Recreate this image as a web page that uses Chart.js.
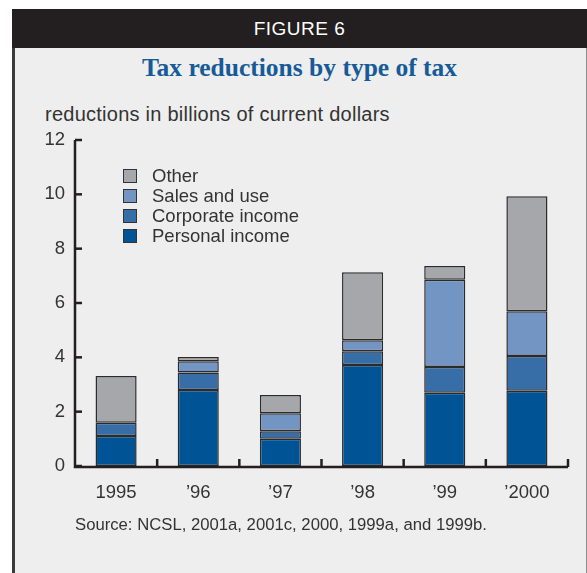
<!DOCTYPE html>
<html>
<head>
<meta charset="utf-8">
<script src="https://cdn.jsdelivr.net/npm/chart.js@4.4.1/dist/chart.umd.min.js"></script>
<style>
  html, body { margin: 0; padding: 0; background: #fff; }
  body { width: 587px; height: 573px; position: relative; overflow: hidden; font-family: "Liberation Sans", Arial, sans-serif; }
  #header {
    position: absolute; left: 12px; top: 9px; width: 575px; height: 39px;
    background: #231f20; color: #fff; font-size: 19px; letter-spacing: 0.5px;
    text-align: center; line-height: 40px;
  }
  #panel {
    position: absolute; left: 12px; top: 48px; width: 571px; height: 525px;
    background: #edeeed; border-left: 3px solid #3c3a3a; border-right: 1px solid #8a8a8a;
  }
  #title {
    position: absolute; left: 12px; width: 575px; top: 53px; text-align: center;
    font-family: "Liberation Serif", "Times New Roman", serif; font-weight: bold;
    font-size: 25.5px; color: #175a98;
  }
  #ylabel { position: absolute; left: 45px; top: 103px; font-size: 20px; letter-spacing: 0.25px; color: #333; }
  #source { position: absolute; left: 75px; top: 515px; font-size: 16.7px; color: #333; }
  #chart { position: absolute; left: 0; top: 0; }
</style>
</head>
<body>
<div id="header">FIGURE 6</div>
<div id="panel"></div>
<div id="title">Tax reductions by type of tax</div>
<div id="ylabel">reductions in billions of current dollars</div>
<canvas id="chart" width="587" height="573"></canvas>
<div id="source">Source: NCSL, 2001a, 2001c, 2000, 1999a, and 1999b.</div>

<script>
// ===================== DATA =====================

const years = ['1995', '\u201996', '\u201997', '\u201998', '\u201999', '\u20192000'];
const personalIncome = [1.1, 2.8, 1.0, 3.72, 2.7, 2.77];
const corporateIncome = [0.49, 0.64, 0.28, 0.5, 0.94, 1.28];
const salesAndUse = [0, 0.42, 0.66, 0.41, 3.22, 1.65];
const other = [1.72, 0.15, 0.67, 2.5, 0.5, 4.23];
const yTicks = [0, 2, 4, 6, 8, 10, 12];

const inkColor = '#231f20';
const textColor = '#333';
const sans = '"Liberation Sans", Arial, sans-serif';

// ===================== PLUGINS =====================

// Axis lines with short inward tick marks
const axisLines = {
  id: 'axisLines',
  afterDatasetsDraw(chart) {
    const { ctx, chartArea, scales } = chart;
    const x = scales.x, y = scales.y;
    const y0 = y.getPixelForValue(0);
    const yTop = y.getPixelForValue(12);
    ctx.save();
    ctx.strokeStyle = inkColor;
    ctx.lineWidth = 2.5;
    ctx.beginPath();
    ctx.moveTo(chartArea.left, yTop);
    ctx.lineTo(chartArea.left, y0 + 1);
    ctx.lineTo(chartArea.right, y0 + 1);
    ctx.stroke();

    yTicks.forEach(v => {
      const py = y.getPixelForValue(v);
      ctx.beginPath();
      ctx.moveTo(chartArea.left, py);
      ctx.lineTo(chartArea.left + 7, py);
      ctx.stroke();
    });

    const step = x.getPixelForValue(1) - x.getPixelForValue(0);
    years.forEach((_, i) => {
      const px = x.getPixelForValue(i) + step / 2;
      ctx.beginPath();
      ctx.moveTo(px, y0 + 1);
      ctx.lineTo(px, y0 - 7);
      ctx.stroke();
    });
    ctx.restore();
  }
};

// Legend drawn inside the plot, top series first
const boxLegend = {
  id: 'boxLegend',
  afterDraw(chart) {
    const { ctx, chartArea } = chart;
    const sets = chart.data.datasets.slice().reverse();
    const left = chartArea.left + 48;
    const top = chartArea.top + 36;
    ctx.save();
    ctx.font = '18.5px ' + sans;
    ctx.textBaseline = 'middle';
    sets.forEach((ds, i) => {
      const cy = top + i * 20;
      ctx.fillStyle = ds.backgroundColor;
      ctx.fillRect(left, cy - 7, 14, 14);
      ctx.strokeStyle = '#333';
      ctx.lineWidth = 1;
      ctx.strokeRect(left + 0.5, cy - 6.5, 13, 13);
      ctx.fillStyle = textColor;
      ctx.fillText(ds.label, left + 29, cy + 1);
    });
    ctx.restore();
  }
};

// ===================== CHART =====================

function series(label, data, color) {
  return {
    label: label,
    data: data,
    backgroundColor: color,
    borderColor: '#2b2b2b',
    borderWidth: 1.5,
    borderSkipped: false,
    categoryPercentage: 1,
    barPercentage: 0.5
  };
}

new Chart(document.getElementById('chart'), {
  type: 'bar',
  data: {
    labels: years,
    datasets: [
      series('Personal income', personalIncome, '#005496'),
      series('Corporate income', corporateIncome, '#386ea8'),
      series('Sales and use', salesAndUse, '#7395c3'),
      series('Other', other, '#a6a7aa')
    ]
  },
  options: {
    responsive: false,
    devicePixelRatio: 1,
    animation: false,
    layout: { padding: { top: 140, right: 19, bottom: 0, left: 0 } },
    plugins: { legend: { display: false }, tooltip: { enabled: false } },
    scales: {
      x: {
        stacked: true,
        grid: { display: false, drawTicks: false },
        border: { display: false },
        ticks: { color: textColor, padding: 16, font: { size: 18.5, family: sans } },
        afterFit: s => { s.height = 107; }
      },
      y: {
        stacked: true,
        min: 0,
        max: 12,
        grid: { display: false, drawTicks: false },
        border: { display: false },
        ticks: { stepSize: 2, color: textColor, padding: 10, font: { size: 18.5, family: sans } },
        afterFit: s => { s.width = 75; }
      }
    }
  },
  plugins: [axisLines, boxLegend]
});
</script>
</body>
</html>
